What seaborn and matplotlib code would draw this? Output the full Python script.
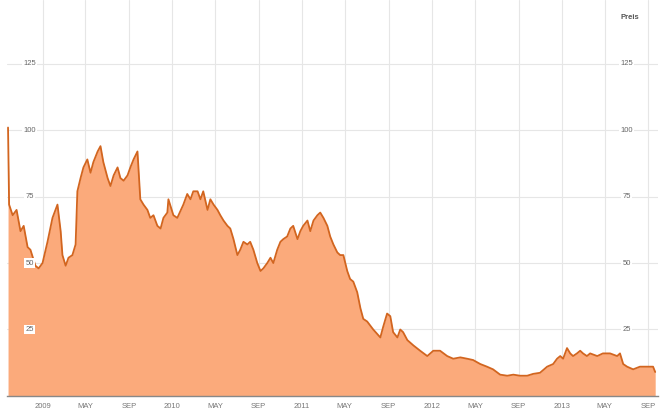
import numpy as np
import pandas as pd
import seaborn as sns
import matplotlib.pyplot as plt
import matplotlib.transforms as mtransforms

# price series
dates = [
    "2008-09-26", "2008-09-29", "2008-10-09", "2008-10-20", "2008-10-31", "2008-11-09",
    "2008-11-20", "2008-11-28", "2008-12-12", "2008-12-21", "2009-01-01", "2009-01-15",
    "2009-01-29", "2009-02-12", "2009-02-21", "2009-02-26", "2009-03-07", "2009-03-15",
    "2009-03-26", "2009-04-04", "2009-04-09", "2009-04-18", "2009-04-26", "2009-05-07",
    "2009-05-16", "2009-05-24", "2009-06-05", "2009-06-13", "2009-06-21", "2009-07-03",
    "2009-07-11", "2009-07-20", "2009-07-31", "2009-08-08", "2009-08-17", "2009-08-28",
    "2009-09-05", "2009-09-14", "2009-09-25", "2009-10-03", "2009-10-12", "2009-10-23",
    "2009-10-31", "2009-11-09", "2009-11-20", "2009-11-29", "2009-12-07", "2009-12-18",
    "2009-12-21", "2010-01-04", "2010-01-15", "2010-02-01", "2010-02-12", "2010-02-21",
    "2010-03-01", "2010-03-13", "2010-03-21", "2010-03-29", "2010-04-10", "2010-04-18",
    "2010-04-27", "2010-05-08", "2010-05-16", "2010-05-25", "2010-06-05", "2010-06-13",
    "2010-06-22", "2010-07-03", "2010-07-11", "2010-07-20", "2010-07-31", "2010-08-08",
    "2010-08-17", "2010-08-28", "2010-09-06", "2010-09-14", "2010-09-25", "2010-10-04",
    "2010-10-12", "2010-10-23", "2010-11-01", "2010-11-09", "2010-11-20", "2010-11-29",
    "2010-12-07", "2010-12-19", "2010-12-27", "2011-01-04", "2011-01-16", "2011-01-24",
    "2011-02-02", "2011-02-13", "2011-02-21", "2011-03-02", "2011-03-13", "2011-03-21",
    "2011-03-30", "2011-04-10", "2011-04-18", "2011-04-27", "2011-05-08", "2011-05-16",
    "2011-05-25", "2011-06-05", "2011-06-14", "2011-06-22", "2011-07-03", "2011-07-20",
    "2011-08-09", "2011-08-17", "2011-08-28", "2011-09-06", "2011-09-14", "2011-09-26",
    "2011-10-04", "2011-10-12", "2011-10-24", "2011-11-10", "2011-11-29", "2011-12-19",
    "2012-01-05", "2012-01-24", "2012-02-13", "2012-03-01", "2012-03-21", "2012-04-09",
    "2012-04-26", "2012-05-16", "2012-06-04", "2012-06-21", "2012-07-11", "2012-07-31",
    "2012-08-17", "2012-09-05", "2012-09-25", "2012-10-12", "2012-10-31", "2012-11-20",
    "2012-12-07", "2012-12-18", "2012-12-27", "2013-01-04", "2013-01-15", "2013-01-24",
    "2013-02-01", "2013-02-12", "2013-02-21", "2013-03-01", "2013-03-12", "2013-03-21",
    "2013-04-10", "2013-04-26", "2013-05-16", "2013-06-05", "2013-06-13", "2013-06-22",
    "2013-07-03", "2013-07-20", "2013-08-08", "2013-08-28", "2013-09-14", "2013-09-20",
]
prices = [
    101, 72, 68, 70, 62, 64,
    56, 55, 49, 48, 50, 58,
    67, 72, 62, 53, 49, 52,
    53, 57, 77, 82, 86, 89,
    84, 88, 92, 94, 88, 82,
    79, 83, 86, 82, 81, 83,
    86, 89, 92, 74, 72, 70,
    67, 68, 64, 63, 67, 69,
    74, 68, 67, 72, 76, 74,
    77, 77, 74, 77, 70, 74,
    72, 70, 68, 66, 64, 63,
    59, 53, 55, 58, 57, 58,
    55, 50, 47, 48, 50, 52,
    50, 55, 58, 59, 60, 63,
    64, 59, 62, 64, 66, 62,
    66, 68, 69, 67, 64, 60,
    57, 54, 53, 53, 47, 44,
    43, 39, 33, 29, 28, 25,
    22, 26, 31, 30, 24, 22,
    25, 24, 21, 19, 17, 15,
    17, 17, 15, 14, 14.5, 14,
    13.5, 12, 11, 10, 8, 7.6,
    8, 7.6, 7.6, 8.3, 8.7, 11,
    12, 14, 15, 14, 18, 16,
    15, 16, 17, 16, 15, 16,
    15, 16, 16, 15, 16, 12,
    11, 10, 11, 11, 11, 9,
]

tick_dates = ["2009-01-01", "2009-05-01", "2009-09-01", "2010-01-01", "2010-05-01",
              "2010-09-01", "2011-01-01", "2011-05-01", "2011-09-01", "2012-01-01",
              "2012-05-01", "2012-09-01", "2013-01-01", "2013-05-01", "2013-09-01"]
tick_labels = ["2009", "MAY", "SEP", "2010", "MAY", "SEP", "2011", "MAY", "SEP",
               "2012", "MAY", "SEP", "2013", "MAY", "SEP"]
y_ticks = [25, 50, 75, 100, 125]

df = pd.DataFrame({"date": pd.to_datetime(dates), "price": prices})

sns.set_theme(style="whitegrid")
plt.rcParams['font.family'] = ['Liberation Sans', 'DejaVu Sans']

fig = plt.figure(figsize=(6.64, 4.15), dpi=100)
ax = fig.add_axes([0.0105, 0.046, 0.980, 0.954])

fill_col = "#FBAA7B"
line_col = "#D2651F"

ax.fill_between(df["date"], df["price"], 0, color=fill_col, linewidth=0, zorder=2)
sns.lineplot(data=df, x="date", y="price", ax=ax, color=line_col, linewidth=1.3, zorder=3)

ax.set_xlim(pd.Timestamp("2008-09-23"), pd.Timestamp("2013-09-27"))
ax.set_ylim(0, 149)
ax.set_xlabel("")
ax.set_ylabel("")

ax.set_xticks(pd.to_datetime(tick_dates))
ax.set_xticklabels(tick_labels, fontsize=5.5, color="#777777")
ax.set_yticks(y_ticks)
ax.set_yticklabels([])
ax.tick_params(axis="both", length=0, pad=5)
ax.grid(True, color="#E6E6E6", linewidth=0.8)
ax.set_axisbelow(True)

for side in ["top", "left", "right"]:
    ax.spines[side].set_visible(False)
ax.spines["bottom"].set_color("#888888")
ax.spines["bottom"].set_linewidth(1.0)
ax.spines["bottom"].set_zorder(4)

trans = mtransforms.blended_transform_factory(ax.transAxes, ax.transData)
for v in y_ticks:
    ax.text(0.035, v, str(v), transform=trans, fontsize=5.5, color="#666666",
            ha="center", va="center", zorder=5,
            bbox=dict(facecolor="white", edgecolor="none", pad=1.0))
    ax.text(0.952, v, str(v), transform=trans, fontsize=5.5, color="#666666",
            ha="center", va="center", zorder=5,
            bbox=dict(facecolor="white", edgecolor="none", pad=1.0))

ax.text(0.957, 0.957, "Preis", transform=ax.transAxes, fontsize=5.5,
        color="#555555", ha="center", va="center", fontweight="bold")

fig.savefig("out.png", dpi=100)
